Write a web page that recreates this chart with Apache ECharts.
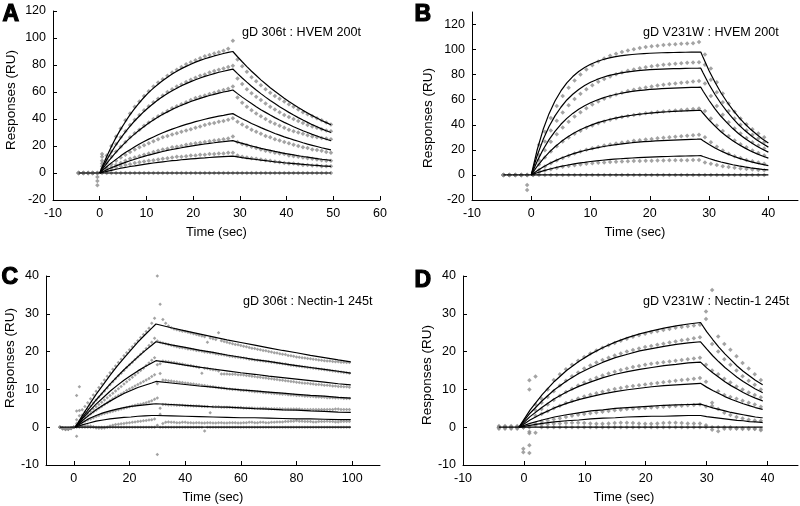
<!DOCTYPE html>
<html><head><meta charset="utf-8">
<script src="https://cdn.jsdelivr.net/npm/echarts@6/dist/echarts.min.js"></script>
<style>html,body{margin:0;padding:0;background:#fff}#c{width:800px;height:506px}</style>
</head><body><div id="c"></div>
<script>
// ---------- Panel A : gD 306t : HVEM 200t ----------
const tA = [-4.5,-3.5,-2.5,-1.5,-0.5,0.5,1.5,2.5,3.5,4.5,5.5,6.5,7.5,8.5,9.5,10.5,11.5,12.5,13.5,14.5,15.5,16.5,17.5,18.5,19.5,20.5,21.5,22.5,23.5,24.5,25.5,26.5,27.5,28.5,29.5,30.5,31.5,32.5,33.5,34.5,35.5,36.5,37.5,38.5,39.5,40.5,41.5,42.5,43.5,44.5,45.5,46.5,47.5,48.5,49.5];
const pA1 = [0,0,0,0,-3,14,13,20,27,33,39,44,49,53,57,60.5,64,67,69.5,72,74.5,76.5,78.5,80.5,82,83.5,85,86.5,87.5,88.5,89.5,90.5,92,98,84,79,75,71,68,65,62,59.5,57,55,53,51,49,47,45,43.5,42,40.5,39,37.5,36];
const pA2 = [0,0,0,0,-6,12,10,16,21.5,26.5,31,35.5,39.5,43,46.5,49.5,52.5,55,57.5,60,62,64,65.5,67.5,69,70.5,72,73,74.5,75.5,76.5,77.5,78.5,79.5,70,66,62,59,56.5,54,51.5,49,47,45,43,41.5,40,38.5,37,35.5,34.5,33.5,32.5,31.5,31];
const pA3 = [0,0,0,0,-9,9,7.5,12,16,19.5,23,26.5,29.5,32,35,37.5,40,42,44,46,48,49.5,51,52.5,54,55.5,56.5,57.5,58.5,59.5,60.5,61.5,62.5,64,56,52,49,46.5,44,42,40,38,36.5,35,33.5,32,31,30,29,28,27,26.5,26,25.5,25];
const pA4 = [0,0,0,0,0,7,4,6.5,9,11.5,13.5,15.5,17.5,19,20.5,22,23.5,25,26.5,27.5,28.5,29.5,30.5,31.5,32.5,33.5,34.5,35.5,36.5,37,38,38.5,39.5,40.5,38,36,34,32,30.5,29,27.5,26.5,25,24,23,22,21,20,19,18.5,17.5,17,16.5,15.5,15];
const pA5 = [0,0,0,0,0,5,3,4.5,6,7.5,9,10.5,11.5,12.5,13.5,14.5,15.5,16.5,17.5,18,19,19.5,20,21,21.5,22,22.5,23,23.5,24,24.5,25,25.5,27,23,21.5,20.5,19.5,18.5,17.5,16.5,16,15,14.5,14,13,12.5,12,11.5,11,10.5,10,9.5,9,9];
const pA6 = [0,0,0,0,0,3,2,3,4,5,6,6.5,7.5,8,8.5,9,9.5,10,10.5,11,11.5,12,12,12.5,13,13,13.5,13.5,14,14,14.5,14.5,15,15,13,12,11.5,11,10.5,10,9.5,9,8.5,8,7.5,7,7,6.5,6,6,5.5,5.5,5,5,5];
const pA7 = [0,0,0,0,0,0,0,0,0,0,0,0,0,0,0,0,0,0,0,0,0,0,0,0,0,0,0,0,0,0,0,0,0,0,0,0,0,0,0,0,0,0,0,0,0,0,0,0,0,0,0,0,0,0,0];
const ltA = [0,0.5,1.5,2.5,3.5,4.5,5.5,6.5,7.5,8.5,9.5,10.5,11.5,12.5,13.5,14.5,15.5,16.5,17.5,18.5,19.5,20.5,21.5,22.5,23.5,24.5,25.5,26.5,27.5,28.5,29.5,30.5,31.5,32.5,33.5,34.5,35.5,36.5,37.5,38.5,39.5,40.5,41.5,42.5,43.5,44.5,45.5,46.5,47.5,48.5,49.5];
const lA1 = [0,4.3,12.3,19.7,26.4,32.5,38.0,43.2,47.9,52.2,56.1,59.7,62.9,65.8,68.5,71.0,73.3,75.4,77.3,79.0,80.6,82.1,83.4,84.6,85.7,86.7,87.6,88.5,89.3,90.0,86.1,82.4,78.8,75.4,72.2,69.0,66.1,63.2,60.5,57.9,55.4,53.0,50.7,48.5,46.4,44.4,42.5,40.7,38.9,37.3,35.7];
const lA2 = [0,3.4,9.7,15.5,20.9,25.9,30.5,34.7,38.7,42.2,45.6,48.7,51.5,54.2,56.6,58.9,60.9,62.8,64.6,66.2,67.7,69.1,70.4,71.6,72.6,73.6,74.6,75.4,76.2,77.0,73.6,70.4,67.3,64.3,61.5,58.8,56.2,53.7,51.4,49.1,47.0,44.9,42.9,41.0,39.2,37.5,35.8,34.3,32.7,31.3,30.0];
const lA3 = [0,2.4,7.1,11.4,15.4,19.2,22.7,26.0,29.0,31.8,34.5,37.0,39.3,41.5,43.5,45.3,47.1,48.7,50.2,51.6,53.0,54.2,55.3,56.4,57.4,58.3,59.2,60.0,60.7,61.5,58.8,56.2,53.8,51.4,49.1,46.9,44.9,42.9,41.0,39.2,37.5,35.9,34.3,32.8,31.3,30.0,28.6,27.4,26.1,25.0,23.9];
const lA4 = [0,1.6,4.6,7.5,10.1,12.7,15.1,17.3,19.4,21.5,23.3,25.1,26.7,28.3,29.8,31.2,32.5,33.7,34.9,36.0,37.0,38.0,38.9,39.8,40.6,41.4,42.1,42.7,43.4,44.0,42.1,40.2,38.5,36.7,35.2,33.6,32.1,30.7,29.3,28.1,26.8,25.7,24.5,23.5,22.4,21.4,20.5,19.6,18.7,17.9,17.1];
const lA5 = [0,0.8,2.4,3.9,5.3,6.6,7.9,9.1,10.2,11.3,12.3,13.3,14.2,15.1,15.9,16.7,17.4,18.1,18.7,19.4,19.9,20.5,21.0,21.5,22.0,22.4,22.9,23.2,23.6,24.0,22.9,21.9,21.0,20.0,19.2,18.3,17.5,16.8,16.0,15.3,14.6,14.0,13.4,12.8,12.2,11.7,11.2,10.7,10.2,9.8,9.3];
const lA6 = [0,0.4,1.2,2.0,2.8,3.5,4.1,4.8,5.3,5.9,6.4,6.9,7.4,7.9,8.3,8.7,9.1,9.4,9.8,10.1,10.4,10.7,11.0,11.2,11.5,11.7,11.9,12.1,12.3,12.5,12.0,11.4,10.9,10.4,10.0,9.5,9.1,8.7,8.3,8.0,7.6,7.3,7.0,6.7,6.4,6.1,5.8,5.6,5.3,5.1,4.9];
const zeroTA = [-4.5,49.5];
const xTicksA = [-10,0,10,20,30,40,50,60];
const yTicksA = [-20,0,20,40,60,80,100,120];

// ---------- Panel B : gD V231W : HVEM 200t ----------
const tB = [-4.7,-3.7,-2.7,-1.7,-0.7,0.3,1.3,2.3,3.3,4.3,5.3,6.3,7.3,8.3,9.3,10.3,11.3,12.3,13.3,14.3,15.3,16.3,17.3,18.3,19.3,20.3,21.3,22.3,23.3,24.3,25.3,26.3,27.3,28.3,29.3,30.3,31.3,32.3,33.3,34.3,35.3,36.3,37.3,38.3,39.3];
const pB1 = [0,0,0,0,-8,2,24,34.4,45.5,55,63,69.6,75.3,80.1,84.2,87.6,90.5,92.9,95,96.7,98.1,99.3,100.3,101.3,102,102.6,103.1,103.6,104,104.3,104.6,104.8,105,106,96,85,74,65,57,50.5,45,40.5,36.5,33,30];
const pB2 = [0,0,0,0,-12,2,16,26.6,35.5,43.2,49.9,55.6,60.5,64.8,68.4,71.6,74.3,76.6,78.6,80.4,81.8,83.1,84.2,85.2,86,86.7,87.3,87.9,88.4,88.8,89.2,89.5,89.8,90,88,76,66,58,51,45,40,35.5,32,29,26];
const pB3 = [0,0,0,0,0,1,11.8,19.7,26.5,32.5,37.8,42.5,46.6,50.1,53.3,56.1,58.5,60.7,62.5,64.2,65.6,66.9,68,69,69.8,70.6,71.3,71.9,72.5,73,73.5,74,74.5,75,73,63,55,48,42,37,33,29.5,26,23.5,21];
const pB4 = [0,0,0,0,0,1,8.3,13.9,18.7,22.9,26.6,29.9,32.8,35.3,37.6,39.5,41.2,42.7,44,45.2,46.2,47.1,47.9,48.5,49.2,49.7,50.2,50.6,51,51.4,51.8,52.2,52.6,53,51,45,39.5,35,31,27.5,24.5,22,19.5,17.5,15.5];
const pB5 = [0,0,0,0,0,0.5,4,6.8,9.3,11.6,13.6,15.4,17.1,18.6,20,21.2,22.3,23.4,24.3,25.1,25.8,26.5,27.2,27.7,28.2,28.7,29.2,29.6,30,30.4,30.8,31.2,31.6,32,30,26,22.5,19.5,17,15,13.5,12,11,10,9];
const pB6 = [0,0,0,0,0,0,2,3.5,4.5,5.5,6.5,7.2,7.8,8.4,8.9,9.3,9.7,10,10.3,10.5,10.7,10.9,11.1,11.2,11.3,11.4,11.5,11.6,11.7,11.7,11.8,11.8,11.9,12,10,9,8,7,6.3,5.7,5.2,4.8,4.4,4,3.7];
const pB7 = [0,0,0,0,0,0,0,0,0,0,0,0,0,0,0,0,0,0,0,0,0,0,0,0,0,0,0,0,0,0,0,0,0,0,0,0,0,0,0,0,0,0,0,0,0];
const ltB = [0,1,2,3,4,5,6,7,8,9,10,11,12,13,14,15,16,17,18,19,20,21,22,23,24,25,26,27,28,28.6,29,30,31,32,33,34,35,36,37,38,39,40];
const lB1 = [0,20.1,36.2,48.9,59.0,67.0,73.5,78.5,82.5,85.7,88.3,90.3,91.9,93.2,94.2,95.0,95.6,96.1,96.5,96.8,97.1,97.3,97.5,97.6,97.7,97.8,97.9,98.0,98.0,98.1,93.6,83.2,73.9,65.6,58.4,51.9,46.1,41.0,36.4,32.4,28.7,25.5];
const lB2 = [0,15.5,28.2,38.6,47.1,54.0,59.8,64.4,68.2,71.4,74.0,76.0,77.7,79.2,80.3,81.2,82.0,82.7,83.2,83.6,84.0,84.3,84.5,84.7,84.8,84.9,85.0,85.1,85.1,85.2,81.3,72.2,64.2,57.0,50.7,45.1,40.0,35.6,31.6,28.1,25.0,22.2];
const lB3 = [0,11.0,20.3,28.2,34.8,40.4,45.1,49.1,52.4,55.2,57.6,59.6,61.3,62.8,64.0,65.0,65.9,66.6,67.2,67.7,68.2,68.5,68.8,69.1,69.3,69.5,69.7,69.8,69.9,70.0,66.8,59.4,52.7,46.8,41.7,37.0,32.9,29.3,26.0,23.1,20.5,18.2];
const lB4 = [0,6.9,12.8,18.0,22.5,26.4,29.8,32.8,35.4,37.6,39.5,41.3,42.7,44.0,45.1,46.1,46.9,47.6,48.3,48.8,49.3,49.7,50.1,50.4,50.7,50.9,51.1,51.3,51.5,51.6,49.2,43.8,38.9,34.5,30.7,27.3,24.3,21.6,19.1,17.0,15.1,13.4];
const lB5 = [0,3.3,6.3,8.9,11.2,13.3,15.1,16.8,18.2,19.5,20.6,21.6,22.5,23.3,24.0,24.6,25.2,25.7,26.1,26.5,26.8,27.1,27.4,27.6,27.8,28.0,28.2,28.4,28.5,28.6,27.3,24.3,21.5,19.1,17.0,15.1,13.4,12.0,10.6,9.4,8.4,7.4];
const lB6 = [0,1.7,3.2,4.5,5.7,6.8,7.7,8.6,9.4,10.0,10.7,11.2,11.7,12.2,12.6,12.9,13.2,13.5,13.8,14.0,14.2,14.4,14.6,14.7,14.9,15.0,15.1,15.2,15.3,15.4,14.7,13.1,11.6,10.3,9.2,8.1,7.2,6.4,5.7,5.1,4.5,4.0];
const zeroTB = [-4.7,40];
const xTicksB = [-10,0,10,20,30,40];
const yTicksB = [-20,0,20,40,60,80,100,120];

// ---------- Panel C : gD 306t : Nectin-1 245t ----------
const tC = [-5,-4,-3,-2,-1,0,1,2,3,4,5,6,7,8,9,10,11,12,13,14,15,16,17,18,19,20,21,22,23,24,25,26,27,28,29,30,31,32,33,34,35,36,37,38,39,40,41,42,43,44,45,46,47,48,49,50,51,52,53,54,55,56,57,58,59,60,61,62,63,64,65,66,67,68,69,70,71,72,73,74,75,76,77,78,79,80,81,82,83,84,85,86,87,88,89,90,91,92,93,94,95,96,97,98,99];
const pC1 = [0,-0.3,-0.3,-0.5,-0.3,0,4.3,4.4,4.6,5.5,6.5,7.5,8.5,9.5,10.5,11.5,12.5,13.5,14.4,15.3,16.2,17.1,18,18.9,19.7,20.5,21.3,22.1,22.9,23.7,24.5,25.3,26.2,27.5,28.8,40,32.5,28.5,27.5,26.8,26.3,26,25.8,25.6,25.4,25.3,25.1,24.9,24.7,24.5,24.3,24.1,23.9,22.5,23.6,23.4,23.2,25,22.9,22.7,22.5,22.3,22.1,21.9,21.8,21.6,21.4,21.3,21.1,20.9,20.8,20.6,20.5,20.3,20.2,20.0,19.9,19.7,19.6,19.4,19.3,19.2,19.0,18.9,18.8,18.6,18.5,18.4,18.3,18.2,18.1,18.0,17.9,17.8,17.7,17.6,17.5,17.5,17.4,17.3,17.3,17.2,17.2,17.1,17.1];
const pC2 = [0,-0.3,-0.5,-0.4,-0.3,0,8.4,3,3.2,4,4.8,5.6,6.4,7.2,8,8.8,9.6,10.4,11.2,12,12.8,13.6,14.3,15,15.8,16.5,17.2,17.9,18.6,19.3,20,20.8,21.6,22.5,23.5,22.8,22.5,22.3,22.1,21.9,21.7,21.5,21.3,21.1,21.0,20.9,20.7,20.6,20.5,20.3,20.2,20.1,19.9,19.8,19.7,19.6,19.4,19.3,19.2,19.1,19.0,18.8,18.7,18.6,18.5,18.4,18.3,18.2,18.0,17.9,17.8,17.7,17.6,17.5,17.4,17.3,17.2,17.1,17.0,16.9,16.8,16.7,16.5,16.4,16.3,16.2,16.1,16.0,15.9,15.8,15.7,15.6,15.5,15.4,15.3,15.2,15.1,15.0,14.9,14.8,14.7,14.6,14.5,14.4,14.3];
const pC3 = [0,-0.5,-0.6,-0.5,-0.3,0,2,10.7,2.5,3,3.6,4.2,4.8,5.4,6,6.6,7.2,7.8,8.4,9,9.6,10.2,10.8,11.4,12,12.6,13.2,13.8,14.4,15,15.6,16.3,17,17.7,18.4,16.5,16.8,17.5,17.4,17.3,17.2,17.1,17.0,16.8,16.7,16.5,16.4,16.3,16.1,16.0,15.8,14.3,15.6,15.5,15.3,15.2,15.1,14.9,14.1,14.1,14.1,14.0,14.0,14.0,13.9,13.9,13.8,13.7,13.6,13.5,13.4,13.3,13.2,13.1,13.0,12.9,12.8,12.7,12.6,12.5,12.4,12.3,12.2,12.1,12.0,11.9,11.8,11.7,11.6,11.6,11.5,11.4,11.3,11.3,11.2,11.1,11.1,11.0,10.9,10.9,10.8,10.8,10.7,10.7,10.6];
const pC4 = [0,-0.4,-0.6,-0.6,-0.4,0,1,1.5,2,2.5,3,3.5,4,4.5,5,5.5,6,6.5,7,7.5,8,8.4,8.8,9.2,9.7,10.1,10.5,10.9,11.3,11.7,12.1,12.5,12.9,13.4,13.9,11.5,14.2,12.5,12.4,12.3,12.2,12.1,12.0,11.9,11.8,11.7,11.6,11.5,11.4,11.3,11.2,11.1,11.0,10.9,10.8,10.7,10.6,10.5,10.4,10.3,10.2,10.1,10.0,10.0,9.9,9.8,9.7,9.7,9.6,9.5,9.4,9.4,9.3,9.2,9.1,9.1,9.0,8.9,8.9,8.8,8.7,8.7,8.6,8.5,8.5,8.4,8.4,8.3,8.2,8.2,8.1,8.1,8.0,8.0,7.9,7.9,7.8,7.8,7.8,7.7,7.7,7.7,7.6,7.6,7.6];
const pC5 = [0,-0.3,-0.5,-0.5,-0.3,0,0.5,1,1.3,1.6,1.9,2.2,2.5,2.8,3.1,3.4,3.6,3.8,4.0,4.2,4.4,4.6,4.8,5.0,5.2,5.4,5.6,5.8,6.0,6.1,6.3,6.5,6.7,7.0,7.4,7.7,5.0,6.0,6.0,5.9,5.9,5.9,5.8,5.8,5.8,5.7,5.7,5.7,5.6,5.6,5.6,5.5,5.5,5.5,3.8,5.4,5.4,5.4,5.3,5.3,5.3,5.3,5.2,5.2,5.2,5.2,5.1,5.1,5.1,5.1,5.0,5.0,5.0,5.0,5.0,4.9,4.9,4.9,4.9,4.9,4.8,4.8,4.8,4.8,4.8,4.8,4.8,4.7,4.7,4.7,4.7,4.7,4.7,4.7,4.7,4.7,4.7,4.7,4.7,4.8,4.8,4.7,4.7,4.7,4.7];
const pC6 = [0,-0.3,-0.4,-0.4,-0.3,0,0,0.2,0.3,0.4,0.4,0.3,0.1,-0.2,-0.3,-0.3,-0.2,0,0.3,0.5,0.7,0.8,0.9,1.0,1.1,1.2,1.3,1.4,1.5,1.6,1.7,1.8,1.9,2.0,2.2,0.5,3.4,1.0,1.3,1.4,1.3,1.3,1.2,1.2,1.3,1.3,1.2,1.2,1.1,1.2,1.2,1.1,1.1,1.2,1.2,1.1,1.1,1.2,1.2,1.1,1.1,1.2,1.2,1.2,1.1,1.1,1.2,1.2,1.3,1.3,1.2,1.2,1.3,1.3,1.2,1.2,1.3,1.3,1.4,1.4,1.4,1.5,1.5,1.6,1.6,1.7,1.6,1.6,1.5,1.5,1.5,1.4,1.4,1.5,1.5,1.5,1.6,1.5,1.5,1.4,1.4,1.5,1.5,1.5,1.5];
const pC7 = [0,-0.2,-0.3,-0.3,-0.2,0,-2.4,0,0,0,0,0,0,0,0,0,0,0,0,0,0,0,0,0,0,0,0,0,0,0,0,0,0,0,0,-7.2,0,0,0,0,0,0,0,0,0,0,0,0,0,0,0,0,-1.0,0,0,0,0,0,0,0,0,0,0,0,0,0,0,0,0,0,0,0,0,0,0,0,0,0,0,0,0,0,0,0,0,0,0,0,0,0,0,0,0,0,0,0,0,0,0,0,0,0,0,0,0];
const ltC = [0.5,3,5.5,8,10.5,13,15.5,18,20.5,23,25.5,28,29.5,35,40,45,50,55,60,65,70,75,80,85,90,95,99.5];
const lC1 = [0,3.0,5.9,8.7,11.2,13.7,16.1,18.3,20.4,22.5,24.4,26.2,27.3,26.3,25.5,24.7,23.9,23.1,22.4,21.7,21.0,20.3,19.7,19.0,18.4,17.8,17.3];
const lC2 = [0,2.5,4.9,7.2,9.3,11.4,13.3,15.2,16.9,18.6,20.2,21.7,22.6,21.8,21.1,20.4,19.8,19.1,18.5,17.9,17.4,16.8,16.3,15.8,15.3,14.8,14.3];
const lC3 = [0,2.2,4.2,6.1,7.8,9.5,11.0,12.4,13.7,14.9,16.0,17.0,17.6,17.0,16.4,15.9,15.4,14.9,14.4,14.0,13.5,13.1,12.7,12.3,11.9,11.5,11.2];
const lC4 = [0,1.7,3.2,4.6,5.8,6.9,7.9,8.9,9.7,10.5,11.1,11.7,12.1,11.7,11.3,10.9,10.6,10.2,9.9,9.6,9.3,9.0,8.7,8.4,8.2,7.9,7.7];
const lC5 = [0,1.2,2.3,3.1,3.8,4.3,4.8,5.2,5.5,5.7,5.9,6.1,6.2,6.0,5.8,5.6,5.4,5.3,5.1,4.9,4.8,4.6,4.5,4.3,4.2,4.0,3.9];
const lC6 = [0,0.6,1.1,1.6,1.9,2.2,2.4,2.6,2.7,2.9,3.0,3.1,3.1,3.0,2.9,2.8,2.7,2.6,2.5,2.5,2.4,2.3,2.2,2.2,2.1,2.0,2.0];
const zeroTC = [-5,99.5];
const xTicksC = [0,20,40,60,80,100];
const yTicksC = [-10,0,10,20,30,40];

// ---------- Panel D : gD V231W : Nectin-1 245t ----------
const tD = [-4.1,-3.1,-2.1,-1.1,-0.1,0.9,1.9,2.9,3.9,4.9,5.9,6.9,7.9,8.9,9.9,10.9,11.9,12.9,13.9,14.9,15.9,16.9,17.9,18.9,19.9,20.9,21.9,22.9,23.9,24.9,25.9,26.9,27.9,28.9,29.9,30.9,31.9,32.9,33.9,34.9,35.9,36.9,37.9,38.9];
const pD1 = [0,0,0,0,-5.7,10,13.4,7.5,10,12.5,14,15.3,16.5,17.6,18.6,19.5,20.3,21.0,21.7,22.3,22.9,23.4,23.9,24.3,24.7,25.1,25.4,25.7,26.0,26.3,26.5,26.7,26.9,27.1,30.6,36.3,24,22,20.5,18.8,17,15.5,14,12.5];
const pD2 = [0,0,0,0,-6.6,12.4,6,6.5,8,9.5,11,12.3,13.5,14.5,15.5,16.3,17.1,17.8,18.4,19.0,19.5,20.0,20.4,20.8,21.2,21.5,21.8,22.1,22.4,22.7,23.0,23.2,23.5,23.8,28.6,22,20,18,16.5,15,13.5,12.3,11.2,10];
const pD3 = [0,0,0,0,0,-1.2,4.5,4.8,6,7.2,8.3,9.3,10.2,11,11.8,12.5,13.1,13.7,14.2,14.7,15.1,15.5,15.9,16.2,16.5,16.8,17.0,17.2,17.4,17.6,17.8,18.0,18.2,18.4,16.5,15,14,12.8,11.8,10.8,10,9.2,8.5,7.9];
const pD4 = [0,0,0,0,0,-1.6,3,3.5,4.2,5,5.7,6.4,7,7.6,8.1,8.6,9.0,9.4,9.8,10.1,10.4,10.7,10.9,11.1,11.3,11.5,11.7,11.9,12.1,12.3,12.5,12.6,12.8,13.0,12,6.5,9.5,8.5,8,7.5,7,6.5,6,5.4];
const pD5 = [0,0,0,0,0,-4.8,1,1.5,1.8,2.1,2.4,2.7,3.0,3.3,3.5,3.7,3.9,4.1,4.3,4.5,4.6,4.8,4.9,5.0,5.1,5.2,5.3,5.4,5.5,5.6,5.7,5.8,5.9,6.0,5.5,5.6,4.8,3.8,3.2,2.7,2.3,2.0,1.8,1.7];
const pD6 = [0.3,0.3,0.3,0.3,0,-6.8,0.5,0.7,0.8,0.9,1.0,1.1,1.2,1.2,1.1,1.0,0.9,0.9,1.0,1.1,1.2,1.2,1.1,1.0,0.9,0.9,1.0,1.1,1.2,1.2,1.1,1.0,1.0,1.0,0.5,-0.7,-1.1,0,0,-0.3,-0.3,-0.3,-0.4,-0.8];
const pD7 = [-0.4,-0.4,-0.4,-0.4,0,0,-1.5,0,0,0,0,0,0,0,0,0,0,0,0,0,0,0,0,0,0,0,0,0,0,0,0,0,0,0,0,0,0,-0.4,-0.4,-0.4,-0.5,-0.5,-0.5,-0.5];
const ltD = [-0.8,1,3,5,7,9,11,13,15,17,19,21,23,25,27,29,30,31,32,33,34,35,36,37,38,39,39.2];
const lD1 = [0,4.5,8.6,12.1,15.0,17.4,19.4,21.1,22.5,23.7,24.7,25.5,26.2,26.8,27.3,27.7,25.3,23.2,21.2,19.4,17.8,16.2,14.8,13.6,12.4,11.4,11.2];
const lD2 = [0,3.7,7.0,9.9,12.2,14.2,15.8,17.2,18.4,19.3,20.2,20.8,21.4,21.9,22.3,22.6,20.7,18.9,17.3,15.8,14.5,13.2,12.1,11.1,10.1,9.3,9.1];
const lD3 = [0,2.8,5.3,7.5,9.3,10.8,12.0,13.1,14.0,14.7,15.3,15.8,16.3,16.6,17.0,17.2,15.7,14.4,13.2,12.0,11.0,10.1,9.2,8.4,7.7,7.1,6.9];
const lD4 = [0,1.9,3.6,5.1,6.3,7.3,8.1,8.8,9.4,9.9,10.3,10.7,11.0,11.2,11.4,11.6,10.6,9.7,8.9,8.1,7.4,6.8,6.2,5.7,5.2,4.8,4.7];
const lD5 = [0,1.0,1.9,2.7,3.3,3.8,4.3,4.6,5.0,5.2,5.4,5.6,5.8,5.9,6.0,6.1,5.6,5.1,4.7,4.3,3.9,3.6,3.3,3.0,2.7,2.5,2.5];
const lD6 = [0,0.5,1.0,1.4,1.7,1.9,2.2,2.4,2.5,2.7,2.8,2.9,2.9,3.0,3.1,3.1,2.8,2.6,2.4,2.2,2.0,1.8,1.7,1.5,1.4,1.3,1.2];
const zeroTD = [-4.1,39.2];
const xTicksD = [-10,0,10,20,30,40];
const yTicksD = [-10,0,10,20,30,40];

const titles = ['gD 306t : HVEM 200t','gD V231W : HVEM 200t','gD 306t : Nectin-1 245t','gD V231W : Nectin-1 245t'];
const letters = ['A','B','C','D'];
const xName = 'Time (sec)';
const yName = 'Responses (RU)';

// ---------- build ----------
const FONT = "'Liberation Sans', Arial, Helvetica, sans-serif";
const panels = [
  {t:tA, pts:[pA1,pA2,pA3,pA4,pA5,pA6,pA7], lt:ltA, lines:[lA1,lA2,lA3,lA4,lA5,lA6], zero:zeroTA,
   grid:{left:53,top:11,width:327,height:189}, x:[-10,60], y:[-20,120], xt:xTicksA, yt:yTicksA, sym:4.5,
   letter:[2,3], title:[242,33], xn:[216.5,232], yn:[11,100]},
  {t:tB, pts:[pB1,pB2,pB3,pB4,pB5,pB6,pB7], lt:ltB, lines:[lB1,lB2,lB3,lB4,lB5,lB6], zero:zeroTB,
   grid:{left:472,top:12,width:326,height:188}, x:[-10,45], y:[-20,130], xt:xTicksB, yt:yTicksB, sym:4.5,
   letter:[414,3], title:[643,33], xn:[635,232], yn:[428,118]},
  {t:tC, pts:[pC1,pC2,pC3,pC4,pC5,pC6,pC7], lt:ltC, lines:[lC1,lC2,lC3,lC4,lC5,lC6], zero:zeroTC,
   grid:{left:46,top:276,width:334,height:189}, x:[-10,110], y:[-10,40], xt:xTicksC, yt:yTicksC, sym:3.5,
   letter:[1,266], title:[243,302], xn:[213,497], yn:[10,358]},
  {t:tD, pts:[pD1,pD2,pD3,pD4,pD5,pD6,pD7], lt:ltD, lines:[lD1,lD2,lD3,lD4,lD5,lD6], zero:zeroTD,
   grid:{left:463,top:276,width:335,height:189}, x:[-10,45], y:[-10,40], xt:xTicksD, yt:yTicksD, sym:4.5,
   letter:[414,269], title:[643,302], xn:[624,497], yn:[427,375]}
];

const grid=[], xAxis=[], yAxis=[], series=[], graphic=[];
const axisCommon = {
  axisLine:{onZero:false, lineStyle:{color:'#000', width:1}},
  splitLine:{show:false}
};
panels.forEach((p,i)=>{
  grid.push(Object.assign({containLabel:false}, p.grid));
  xAxis.push(Object.assign({type:'value', gridIndex:i, min:p.x[0], max:p.x[1],
    axisTick:{inside:true, length:4, customValues:p.xt, lineStyle:{color:'#000'}},
    axisLabel:{customValues:p.xt, color:'#000', fontSize:12.5, fontFamily:FONT, margin:7}}, axisCommon));
  yAxis.push(Object.assign({type:'value', gridIndex:i, min:p.y[0], max:p.y[1],
    axisTick:{inside:true, length:4, customValues:p.yt, lineStyle:{color:'#000'}},
    axisLabel:{customValues:p.yt, color:'#000', fontSize:12.5, fontFamily:FONT, margin:7}}, axisCommon));
  p.pts.forEach(arr=>{
    series.push({type:'scatter', xAxisIndex:i, yAxisIndex:i, silent:true, z:2,
      symbol:'diamond', symbolSize:p.sym, itemStyle:{color:'#8c8c8c'},
      data:p.t.map((t,k)=>[t,arr[k]])});
  });
  series.push({type:'line', xAxisIndex:i, yAxisIndex:i, silent:true, z:3, symbol:'none',
    lineStyle:{color:'#000', width:1.2}, data:[[p.zero[0],0],[p.zero[1],0]]});
  p.lines.forEach(arr=>{
    series.push({type:'line', xAxisIndex:i, yAxisIndex:i, silent:true, z:3, symbol:'none',
      lineStyle:{color:'#000', width:1.2}, data:p.lt.map((t,k)=>[t,arr[k]])});
  });
  graphic.push({type:'text', left:p.letter[0], top:p.letter[1], silent:true,
    style:{text:letters[i], font:'bold 23px '+FONT, fill:'#000', stroke:'#000', lineWidth:1.2}});
  graphic.push({type:'text', x:p.title[0], y:p.title[1], silent:true,
    style:{text:titles[i], font:'12.6px '+FONT, fill:'#000', align:'left', verticalAlign:'middle'}});
  graphic.push({type:'text', x:p.xn[0], y:p.xn[1], silent:true,
    style:{text:xName, font:'13px '+FONT, fill:'#000', align:'center', verticalAlign:'middle'}});
  graphic.push({type:'text', x:p.yn[0], y:p.yn[1], rotation:Math.PI/2, silent:true,
    style:{text:yName, font:'13.5px '+FONT, fill:'#000', align:'center', verticalAlign:'middle'}});
});

const chart = echarts.init(document.getElementById('c'), null, {renderer:'canvas'});
chart.setOption({animation:false, backgroundColor:'#fff', grid, xAxis, yAxis, series, graphic});
</script></body></html>
